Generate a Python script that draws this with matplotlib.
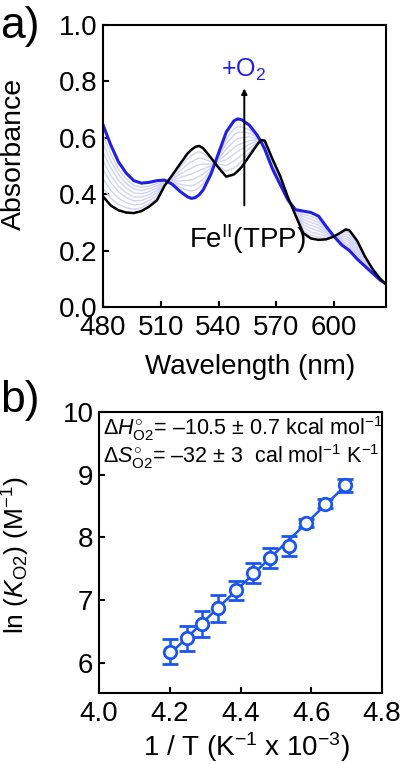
import numpy as np
import matplotlib
matplotlib.use("Agg")
import matplotlib.pyplot as plt

plt.rcParams['font.family'] = ['Liberation Sans', 'DejaVu Sans']
plt.rcParams['mathtext.fontset'] = 'custom'
plt.rcParams['mathtext.rm'] = 'Liberation Sans'
plt.rcParams['mathtext.it'] = 'Liberation Sans:italic'
plt.rcParams['mathtext.bf'] = 'Liberation Sans:bold'

### data

# a) UV-vis titration, Fe(II)TPP -> +O2
wavelength = [480, 484, 488, 492, 496, 500, 504, 508, 512, 516, 520, 524, 526, 528,
              530, 532, 536, 540, 544, 548, 550, 552, 556, 560, 562, 564, 568, 572,
              576, 580, 584, 588, 592, 596, 600, 604, 606, 608, 612, 616, 620, 624, 627]
abs_fe = [0.392, 0.360, 0.343, 0.335, 0.333, 0.340, 0.356, 0.378, 0.430, 0.468,
          0.507, 0.545, 0.558, 0.568, 0.571, 0.563, 0.530, 0.494, 0.462, 0.470,
          0.482, 0.496, 0.535, 0.575, 0.592, 0.590, 0.525, 0.465, 0.390, 0.325,
          0.262, 0.243, 0.238, 0.240, 0.250, 0.266, 0.275, 0.272, 0.235, 0.180,
          0.135, 0.100, 0.080]
abs_o2 = [0.646, 0.575, 0.515, 0.475, 0.448, 0.439, 0.442, 0.448, 0.450, 0.435,
          0.410, 0.390, 0.385, 0.388, 0.398, 0.415, 0.470, 0.545, 0.620, 0.660,
          0.667, 0.664, 0.645, 0.610, 0.587, 0.560, 0.490, 0.435, 0.380, 0.345,
          0.340, 0.335, 0.322, 0.285, 0.250, 0.220, 0.210, 0.200, 0.170, 0.145,
          0.120, 0.095, 0.082]
# fraction of O2 adduct in the intermediate traces
o2_fraction = [0.12, 0.25, 0.38, 0.50, 0.62, 0.74, 0.85]

# b) van't Hoff plot
inv_T = [4.202, 4.248, 4.291, 4.337, 4.387, 4.434, 4.483, 4.536, 4.586, 4.638, 4.695]
ln_K = [6.18, 6.39, 6.62, 6.87, 7.16, 7.43, 7.68, 7.87, 8.23, 8.54, 8.83]
ln_K_err = [0.20, 0.20, 0.21, 0.22, 0.15, 0.16, 0.16, 0.16, 0.07, 0.07, 0.10]

blue_a = '#1f1fe6'
blue_b = '#1a55ee'
light = '#d2d2f8'

fig = plt.figure(figsize=(4, 7.64), dpi=100)

### panel a
ax1 = fig.add_axes([0.2575, 0.5982, 0.7075, 0.3691])
wl = np.array(wavelength)
fe = np.array(abs_fe)
o2 = np.array(abs_o2)
for f in o2_fraction:
    ax1.plot(wl, fe + f * (o2 - fe), color=light, lw=1.0, solid_joinstyle='round')
ax1.plot(wl, o2, color=blue_a, lw=2.2, solid_joinstyle='round')
ax1.plot(wl, fe, color='k', lw=1.8, solid_joinstyle='round')

ax1.annotate('', xy=(553.4, 0.775), xytext=(553.4, 0.36),
             arrowprops=dict(arrowstyle='-|>', color='k', lw=1.4, mutation_scale=8,
                             shrinkA=0, shrinkB=0))
ax1.text(553.2, 0.84, r'+O$_2$', color=blue_a, fontsize=18, ha='center', va='center')
ax1.text(555.1, 0.209, r'Fe$^{\rm II}$(TPP)', color='k', fontsize=20,
         ha='center', va='baseline')

ax1.set_xlim(480, 627)
ax1.set_ylim(0, 1.0)
ax1.set_xticks([480, 510, 540, 570, 600])
ax1.set_yticks(np.arange(0, 1.01, 0.2))
ax1.set_yticklabels(['%.1f' % v for v in np.arange(0, 1.01, 0.2)])
ax1.set_xlabel('Wavelength (nm)', fontsize=20)
ax1.set_ylabel('Absorbance', fontsize=20.5)
ax1.xaxis.set_label_coords(0.52, -0.165)
ax1.yaxis.set_label_coords(-0.27, 0.544)

### panel b
ax2 = fig.add_axes([0.2475, 0.0929, 0.7075, 0.3678])
coef = np.polyfit(inv_T, ln_K, 1)
xfit = np.array([inv_T[0], inv_T[-1]])
ax2.plot(xfit, np.polyval(coef, xfit), color=blue_b, lw=1.8)
ax2.errorbar(inv_T, ln_K, yerr=ln_K_err, fmt='o', color=blue_b, mfc='white',
             mec=blue_b, mew=2.0, ms=9, capsize=6, elinewidth=1.8, capthick=1.8)

ax2.text(0.015, 0.94, r'$\Delta H^{\circ}_{\rm O2}$= –10.5 ± 0.7 kcal mol$^{-1}$',
         transform=ax2.transAxes, fontsize=15.5, ha='left', va='center')
ax2.text(0.015, 0.84, r'$\Delta S^{\circ}_{\rm O2}$= –32 ± 3  cal mol$^{-1}$ K$^{-1}$',
         transform=ax2.transAxes, fontsize=15.5, ha='left', va='center')

ax2.set_xlim(4.0, 4.8)
ax2.set_ylim(5.52, 10.0)
ax2.set_xticks([4.0, 4.2, 4.4, 4.6, 4.8])
ax2.set_yticks([6, 7, 8, 9, 10])
ax2.set_xlabel(r'1 / T (K$^{-1}$ x 10$^{-3}$)', fontsize=20)
ax2.set_ylabel(r'ln ($K_{\rm O2}$) (M$^{-1}$)', fontsize=19)
ax2.xaxis.set_label_coords(0.521, -0.132)
ax2.yaxis.set_label_coords(-0.235, 0.491)

for ax in (ax1, ax2):
    for s in ax.spines.values():
        s.set_linewidth(1.5)
    ax.tick_params(direction='in', length=4, width=1.5, labelsize=20,
                   top=False, right=False)
    ax.tick_params(axis='x', pad=6)
    ax.tick_params(axis='y', pad=4)

fig.text(0.0, 0.992, 'a)', fontsize=32, ha='left', va='top')
fig.text(0.0, 0.503, 'b)', fontsize=32, ha='left', va='top')

fig.savefig('out.png', dpi=100)
